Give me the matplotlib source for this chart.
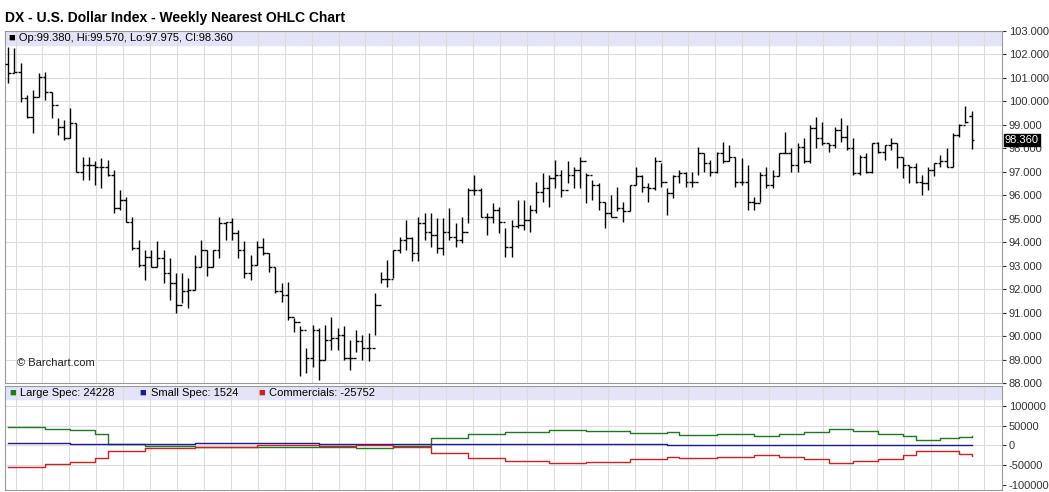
import matplotlib
matplotlib.use("Agg")
import matplotlib.pyplot as plt
import numpy as np
plt.rcParams['font.family'] = ['Liberation Sans', 'DejaVu Sans']

high = [102.33,102.26,101.62,100.28,100.49,101.20,101.27,100.42,99.28,99.21,99.71,99.07,97.65,97.65,97.44,97.58,97.51,97.08,96.23,95.94,
95.09,94.10,93.67,93.67,94.03,93.67,93.32,92.68,92.68,92.47,93.46,94.10,93.67,93.67,95.09,94.88,95.02,94.52,94.03,93.46,
94.03,94.17,93.53,92.96,92.25,92.32,90.76,90.41,89.48,90.48,90.34,90.48,90.83,90.34,90.41,89.84,90.26,90.05,90.12,91.83,
92.75,93.25,93.67,94.24,94.95,94.24,95.09,95.23,95.23,95.02,95.02,95.45,94.81,95.09,96.30,96.87,96.30,95.23,95.66,95.52,
94.60,94.95,95.80,95.80,95.59,96.58,96.94,96.87,97.51,97.08,97.44,97.22,97.65,96.94,96.65,96.51,95.73,96.02,96.37,95.73,
96.44,97.22,96.87,96.51,97.65,97.36,96.30,96.87,97.08,97.01,97.01,98.07,97.79,97.51,97.86,98.29,98.15,97.65,97.58,97.29,
95.94,97.01,97.22,97.08,97.79,98.71,98.00,98.22,98.43,99.00,99.35,99.14,98.22,98.93,99.28,99.00,98.43,97.72,97.79,98.22,
98.29,98.15,98.43,98.22,97.65,97.29,97.36,96.87,97.22,97.36,97.72,98.00,98.64,99.04,99.81,99.57]
low = [100.77,101.20,99.99,99.28,98.64,100.20,100.06,99.28,98.57,98.36,98.43,97.01,96.65,96.65,96.44,96.30,96.80,95.23,95.38,94.88,
93.67,92.96,92.39,92.96,92.96,92.25,91.54,90.97,91.40,91.19,91.97,92.96,92.54,92.96,93.32,94.10,94.10,93.32,92.47,92.39,
93.03,93.46,92.75,91.83,91.47,90.69,90.19,88.28,88.42,88.70,88.13,88.99,89.41,89.41,88.99,88.56,89.34,88.99,88.92,90.05,
92.25,92.11,92.47,93.53,93.67,93.18,93.18,94.10,93.81,93.53,93.46,94.10,93.81,93.96,94.81,96.02,95.09,94.31,94.81,94.38,
93.39,93.39,94.60,94.52,94.45,95.23,95.73,95.52,96.30,95.94,96.51,96.30,96.30,95.66,95.80,95.38,94.60,95.09,95.31,94.88,
95.31,96.44,96.16,95.73,96.23,96.37,95.16,95.87,96.51,96.37,96.37,96.87,97.01,96.80,96.94,97.36,97.44,96.37,96.44,95.38,
95.38,95.73,96.30,96.30,96.80,97.79,97.01,97.01,97.36,97.36,98.00,98.15,97.86,98.00,98.29,97.93,96.87,96.87,96.94,96.94,
97.79,97.51,97.93,97.15,96.73,96.51,96.51,96.02,96.23,96.80,97.22,97.22,97.22,98.50,99.07,97.975]
close = [101.20,101.27,100.13,99.35,100.20,101.06,100.42,99.85,98.93,98.43,99.07,97.01,97.29,97.29,97.22,97.22,96.87,95.45,95.80,94.88,
93.74,93.03,93.39,92.96,93.32,92.68,92.25,91.33,91.90,91.97,92.96,93.67,92.96,93.67,94.81,94.88,94.38,93.67,92.68,93.03,
93.81,93.53,92.96,91.90,91.76,90.83,90.62,90.26,89.06,90.26,88.99,89.84,89.91,90.05,89.06,89.06,89.77,89.48,89.48,91.33,
92.42,92.42,93.67,94.10,94.17,93.53,94.81,94.45,94.31,93.74,94.45,94.24,94.10,94.45,96.23,96.23,95.09,95.09,95.38,94.88,
93.81,94.67,94.74,94.95,95.38,96.16,96.30,96.73,96.87,96.23,96.87,97.08,97.44,96.87,96.44,95.73,95.23,95.09,95.45,95.31,
96.44,96.80,96.37,96.30,97.44,96.58,96.09,96.80,96.94,96.58,96.58,97.79,97.36,97.01,97.79,97.44,97.65,96.58,96.58,95.73,
95.66,96.87,96.44,96.80,97.79,97.79,97.29,98.07,97.44,98.86,98.43,98.22,98.15,98.78,98.50,98.00,96.94,97.65,97.01,98.22,
97.86,98.15,98.22,97.65,97.29,97.22,96.58,96.51,97.08,97.36,97.44,97.22,98.57,99.00,99.14,98.36]
first_open = 101.6
last_open = 99.38

cot_week = [0,6,10,14,16,22,30,40,50,56,62,68,74,80,87,93,100,106,108,114,120,124,128,132,136,140,144,146,150,153,155]
large_spec = [48000,43000,38000,30000,3000,-2000,-3000,-5000,-3000,-6000,-2000,18000,28000,35000,40000,37000,32000,34000,27000,29000,25000,30000,33000,43000,37000,28000,25000,13000,18000,22000,24228]
commercials = [-55000,-48000,-42000,-32000,-15000,-6000,-3000,0,-2000,2000,-3000,-20000,-32000,-40000,-45000,-43000,-35000,-30000,-32000,-28000,-24000,-30000,-33000,-45000,-40000,-33000,-25000,-13000,-15000,-22000,-25752]
small_spec = [7000,6000,5000,5000,5000,4000,6000,6000,5000,4000,3000,3000,3000,4000,4000,3000,3000,2000,2000,1000,1000,1000,1000,2000,2000,2000,1500,1500,1500,1500,1524]

n = len(close)
opens = [first_open] + close[:-1]
opens[-1] = last_open

W, H = 1049, 492
fig = plt.figure(figsize=(W/100, H/100), dpi=100)
fig.patch.set_facecolor("white")
def rect(l, t, r, b):
    return [l/W, 1-b/H, (r-l)/W, (b-t)/H]

ax = fig.add_axes(rect(5, 31, 1002, 383))
ax2 = fig.add_axes(rect(5, 386, 1002, 490))
x = np.arange(n)
xl = (-0.5, n - 1 + 4.9)
grid_c = "#dcdcdc"
vgrid = np.arange(1.2, n + 4, 4.33)

ax.set_xlim(xl); ax.set_ylim(88, 103)
ax.axhspan(102.42, 103, color="#e4e4f8", zorder=0)
for g in vgrid:
    ax.axvline(g, color=grid_c, lw=0.8, zorder=0)
for yv in range(89, 103):
    ax.axhline(yv, color=grid_c, lw=0.8, zorder=0)
ax.vlines(x, low, high, color="black", lw=1.0, zorder=3)
ax.hlines(opens, x - 0.45, x, color="black", lw=1.0, zorder=3)
ax.hlines(close, x, x + 0.45, color="black", lw=1.0, zorder=3)
ax.yaxis.tick_right()
ax.set_yticks(np.arange(88, 104, 1))
ax.set_yticklabels([f"{v:.3f}" for v in np.arange(88, 104, 1)])
ax.set_xticks([])
ax.tick_params(axis="y", labelsize=8, length=3, pad=2, colors="#333333")
for s in ax.spines.values():
    s.set_color("#999999")
ax.text(1.003, 98.36, "98.360", transform=ax.get_yaxis_transform(), fontsize=8, color="white",
        va="center", ha="left", bbox=dict(boxstyle="square,pad=0.1", fc="black", ec="black"))
ax.text(0.004, 102.72, "\u25A0 Op:99.380, Hi:99.570, Lo:97.975, Cl:98.360", transform=ax.get_yaxis_transform(),
        fontsize=8, va="center", ha="left")
ax.text(0.012, 88.85, "\u00A9 Barchart.com", transform=ax.get_yaxis_transform(), fontsize=8, va="center", ha="left", color="#222222")
fig.text(5/W, 1-18/H, "DX - U.S. Dollar Index - Weekly Nearest OHLC Chart", fontsize=10, fontweight="bold", va="center", ha="left")

ax2.set_xlim(xl); ax2.set_ylim(-112660, 150600)
ax2.axhspan(118000, 150600, color="#e4e4f8", zorder=0)
for g in vgrid:
    ax2.axvline(g, color=grid_c, lw=0.8, zorder=0)
for yv in [100000, 50000, 0, -50000]:
    ax2.axhline(yv, color=grid_c, lw=0.8, zorder=0)
cw = list(cot_week) + [n - 1]
ax2.step(cw, large_spec + [large_spec[-1]], where="post", color="#1e7a1e", lw=1.0, zorder=3)
ax2.step(cw, small_spec + [small_spec[-1]], where="post", color="#1a1a9a", lw=1.0, zorder=3)
ax2.step(cw, commercials + [commercials[-1]], where="post", color="#cc2222", lw=1.0, zorder=3)
ax2.yaxis.tick_right()
ax2.set_yticks([100000, 50000, 0, -50000, -100000])
ax2.set_yticklabels(["100000", "50000", "0", "-50000", "-100000"])
ax2.set_xticks([])
ax2.tick_params(axis="y", labelsize=8, length=3, pad=2, colors="#333333")
for s in ax2.spines.values():
    s.set_color("#999999")
tr = ax2.get_yaxis_transform()
items = [(0.004, "#1e7a1e", "Large Spec: 24228"), (0.135, "#1a1a9a", "Small Spec: 1524"), (0.254, "#cc2222", "Commercials: -25752")]
for xp, c, t in items:
    ax2.text(xp, 134000, "\u25A0", color=c, transform=tr, fontsize=8, va="center", ha="left")
    ax2.text(xp + 0.011, 134000, t, transform=tr, fontsize=8, va="center", ha="left")

fig.savefig("out.png", dpi=100)
